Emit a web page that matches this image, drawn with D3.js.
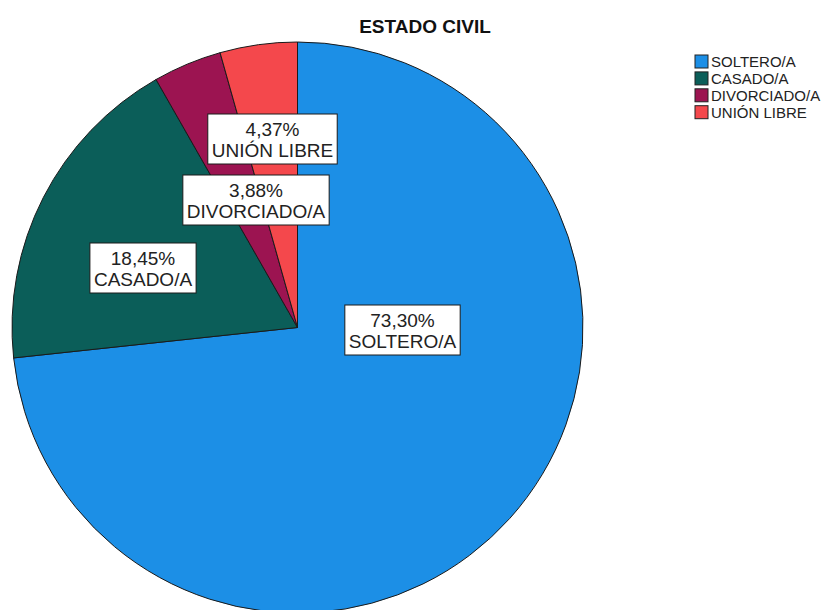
<!DOCTYPE html>
<html><head><meta charset="utf-8">
<script src="https://cdn.jsdelivr.net/npm/d3@7"></script>
<style>body{margin:0;background:#fff}svg{display:block}text{font-family:"Liberation Sans",Arial,sans-serif}</style>
</head><body>
<svg id="c" width="830" height="610"></svg>
<script>
const categories = ["SOLTERO/A", "CASADO/A", "DIVORCIADO/A", "UNIÓN LIBRE"];
const values = [73.30, 18.45, 3.88, 4.37];
const colors = ["#1C8FE6", "#0B5E59", "#9C1451", "#F4484C"];
const labelText = ["73,30%", "18,45%", "3,88%", "4,37%"];
// label box centres, offsets from the pie centre (layout, not data)
const labelOffsets = [[105, 2.5], [-154.5, -59.5], [-41.5, -127.5], [-25, -188.5]];

const svg = d3.select("#c");
const cx = 297.5, cy = 327.5, R = 285.5;

svg.append("text").attr("x", 425).attr("y", 33).attr("text-anchor", "middle")
  .attr("font-size", 19).attr("font-weight", "bold").attr("fill", "#111").text("ESTADO CIVIL");

const data = categories.map((c, i) => ({cat: c, value: values[i], color: colors[i], label: labelText[i], off: labelOffsets[i]}));
const pie = d3.pie().value(d => d.value).sort(null);
const arc = d3.arc().innerRadius(0).outerRadius(R);
const g = svg.append("g").attr("transform", `translate(${cx},${cy})`);
g.selectAll("path").data(pie(data)).join("path")
  .attr("d", arc).attr("fill", d => d.data.color)
  .attr("stroke", "#1a1a1a").attr("stroke-width", 1);

// labels
const lg = g.selectAll("g.lab").data(data).join("g").attr("class", "lab")
  .attr("transform", d => `translate(${d.off[0]},${d.off[1]})`);
lg.each(function(d) {
  const s = d3.select(this);
  const rect = s.append("rect");
  const t1 = s.append("text").attr("text-anchor", "middle").attr("y", -3).attr("font-size", 19).attr("fill", "#222").text(d.label);
  const t2 = s.append("text").attr("text-anchor", "middle").attr("y", 18.4).attr("font-size", 19).attr("fill", "#222").text(d.cat);
  const w = Math.max(t1.node().getComputedTextLength(), t2.node().getComputedTextLength()) + 8;
  rect.attr("x", -w / 2).attr("y", -25).attr("width", w).attr("height", 50)
    .attr("fill", "#fff").attr("stroke", "#1a1a1a").attr("stroke-width", 1);
});

// legend
const leg = svg.append("g").attr("transform", "translate(695,55)");
const step = 16.9;
const rows = leg.selectAll("g").data(data).join("g").attr("transform", (d, i) => `translate(0,${i * step})`);
rows.append("rect").attr("width", 13).attr("height", 13).attr("fill", d => d.color)
  .attr("stroke", "#222").attr("stroke-width", 1);
rows.append("text").attr("x", 16).attr("y", 12.3).attr("font-size", 15).attr("fill", "#222").text(d => d.cat);
</script>
</body></html>
